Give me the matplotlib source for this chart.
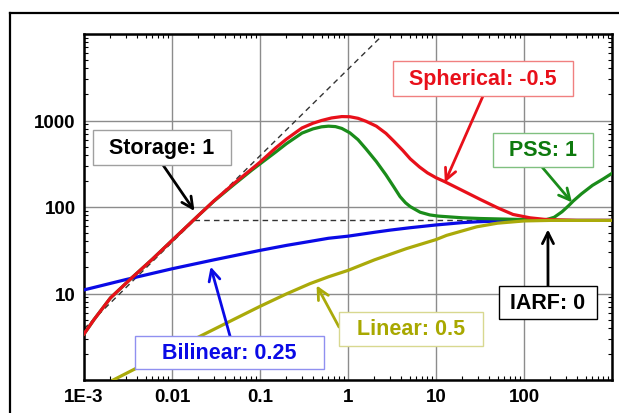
import matplotlib
matplotlib.use("Agg")
import matplotlib.pyplot as plt
from matplotlib.patches import Rectangle
from matplotlib.ticker import LogLocator, NullFormatter

plt.rcParams['font.family'] = ['Liberation Sans', 'DejaVu Sans']

# curves (time, derivative)
sph_x = [0.001, 0.0013, 0.002, 0.0035, 0.006, 0.01, 0.02, 0.03, 0.05, 0.1, 0.15, 0.2, 0.3,
         0.4, 0.5, 0.65, 0.85, 1.05, 1.3, 1.6, 2.1, 2.7, 3.3, 4.2, 5.1, 6.5, 8, 10, 12.6,
         20, 32, 50, 75, 117, 170, 250, 400, 1000]
sph_y = [3.4, 5.0, 8.9, 15.2, 25, 41, 80, 118, 185, 330, 480, 610, 820,
         930, 1000, 1070, 1110, 1105, 1060, 980, 860, 710, 580, 450, 360, 290, 248, 218, 196,
         155, 122, 98, 82, 75, 72, 71, 70, 70]

pss_x = [0.001, 0.0013, 0.002, 0.0035, 0.006, 0.01, 0.02, 0.03, 0.05, 0.08, 0.1, 0.15,
         0.2, 0.3, 0.4, 0.5, 0.6, 0.72, 0.85, 1.05, 1.3, 1.6, 2.1, 2.7, 3.3, 3.9, 4.5,
         5.1, 6.6, 8.5, 10.6, 20, 32, 60, 100, 180, 220, 270, 320, 362, 450, 600, 800, 1000]
pss_y = [3.4, 5.0, 8.9, 15.2, 25, 41, 80, 117, 180, 265, 315, 430,
         540, 715, 800, 845, 860, 850, 810, 720, 600, 470, 335, 235, 172, 132, 112,
         101, 87, 81, 78.5, 75, 73.6, 72.5, 71.6, 71.5, 76, 88, 103, 117, 142, 178, 212, 245]

bil_x = [0.001, 0.003, 0.01, 0.03, 0.1, 0.2, 0.37, 0.6, 1, 2, 3, 5, 10, 20, 30, 60, 100, 300, 1000]
bil_y = [11, 14.5, 19.3, 24.5, 31.5, 36, 40, 43.5, 46, 51, 54, 57.5, 62, 66, 67.5, 69.3, 70, 70, 70]

lin_x = [0.00215, 0.005, 0.01, 0.0208, 0.05, 0.1, 0.2, 0.37, 0.6, 1, 2, 4.6, 10, 13.2, 20,
         29, 50, 100, 200, 1000]
lin_y = [1.0, 1.55, 2.2, 3.2, 5.0, 7.1, 9.9, 13, 15.6, 18.5, 24.5, 33, 42, 47, 53,
         59, 65, 69, 70, 70]

storage_x = [0.001, 2.3]
storage_y = [3.9, 9000]
iarf_x = [0.018, 300]
iarf_y = [70, 70]

xticks = [1e-3, 1e-2, 1e-1, 1, 10, 100, 1000]
xlabels = ['1E-3', '0.01', '0.1', '1', '10', '100', '']
yticks = [1, 10, 100, 1000, 10000]
ylabels = ['', '10', '100', '1000', '']

RED = '#e8101a'
GREEN = '#1a8c1a'
BLUE = '#0a0ae6'
OLIVE = '#aaaa0a'

W, H = 619, 414
fig = plt.figure(figsize=(W / 100, H / 100), dpi=100)
ax = fig.add_axes([84 / W, 1 - 381 / H, 528 / W, 346 / H])

# outer frame of the slide picture
fig.add_artist(plt.Line2D([10 / W, 1], [1 - 14 / H, 1 - 14 / H], color='black', lw=1.6,
                          transform=fig.transFigure))
fig.add_artist(plt.Line2D([10 / W, 10 / W], [0, 1 - 14 / H], color='black', lw=1.6,
                          transform=fig.transFigure))

ax.plot(storage_x, storage_y, color='#333333', lw=1.0, ls=(0, (4, 3)), zorder=2)
ax.plot(iarf_x, iarf_y, color='#333333', lw=1.0, ls=(0, (4, 3)), zorder=2)
ax.plot(bil_x, bil_y, color=BLUE, lw=2.3, zorder=3)
ax.plot(pss_x, pss_y, color=GREEN, lw=2.3, zorder=3)
ax.plot(sph_x, sph_y, color=RED, lw=2.3, zorder=4)
ax.plot(lin_x, lin_y, color=OLIVE, lw=2.3, zorder=5)

ax.set_xscale('log')
ax.set_yscale('log')
ax.set_xlim(1e-3, 1e3)
ax.set_ylim(1, 1e4)
ax.set_xticks(xticks)
ax.set_xticklabels(xlabels)
ax.set_yticks(yticks)
ax.set_yticklabels(ylabels)
ax.xaxis.set_minor_locator(LogLocator(base=10, subs=range(2, 10), numticks=20))
ax.yaxis.set_minor_locator(LogLocator(base=10, subs=range(2, 10), numticks=20))
ax.xaxis.set_minor_formatter(NullFormatter())
ax.yaxis.set_minor_formatter(NullFormatter())
ax.tick_params(which='major', length=0, pad=6, labelsize=13.5)
ax.tick_params(which='minor', direction='in', length=3, width=0.8,
               top=True, right=True, bottom=True, left=True)
for lab in ax.get_xticklabels() + ax.get_yticklabels():
    lab.set_fontweight('bold')
ax.grid(True, which='major', color='#8c8c8c', lw=1.0)
for s in ax.spines.values():
    s.set_linewidth(1.8)
    s.set_color('black')


def note(text, tip, box, start, color, edge, arrow):
    # box = (left, top, right, bottom) in pixels from the top-left corner
    x0, y0, x1, y1 = box
    fig.add_artist(Rectangle((x0 / W, 1 - y1 / H), (x1 - x0) / W, (y1 - y0) / H,
                             transform=fig.transFigure, fc='white', ec=edge, lw=1.0, zorder=5))
    fig.text((x0 + x1) / 2 / W, 1 - (y0 + y1) / 2 / H, text, ha='center', va='center',
             fontsize=15.5, fontweight='bold', color=color, zorder=6)
    ax.annotate('', xy=tip, xycoords='data',
                xytext=(start[0], H - start[1]), textcoords='figure pixels',
                arrowprops=dict(arrowstyle='->,head_length=0.8,head_width=0.4',
                                color=arrow, lw=2.0, shrinkA=0, shrinkB=0),
                zorder=10)


note('Storage: 1', (0.018, 90), (93, 131, 231, 166), (163, 166), 'black', '#a0a0a0', 'black')
note('Spherical: -0.5', (12.6, 192), (393, 62, 573, 97), (483, 97), RED, '#f08080', RED)
note('PSS: 1', (351, 113), (493, 134, 593, 168), (542, 168), '#0e7a0e', '#80c080', GREEN)
note('IARF: 0', (187, 55), (499, 287, 597, 320), (548, 287), 'black', 'black', 'black')
note('Linear: 0.5', (0.44, 12.4), (339, 313, 483, 347), (339, 328), '#a8a800', '#d8d890', OLIVE)
note('Bilinear: 0.25', (0.0275, 20.4), (135, 337, 324, 370), (230, 337), '#0a0ae6', '#9090f0', BLUE)

fig.savefig('out.png', dpi=100)
